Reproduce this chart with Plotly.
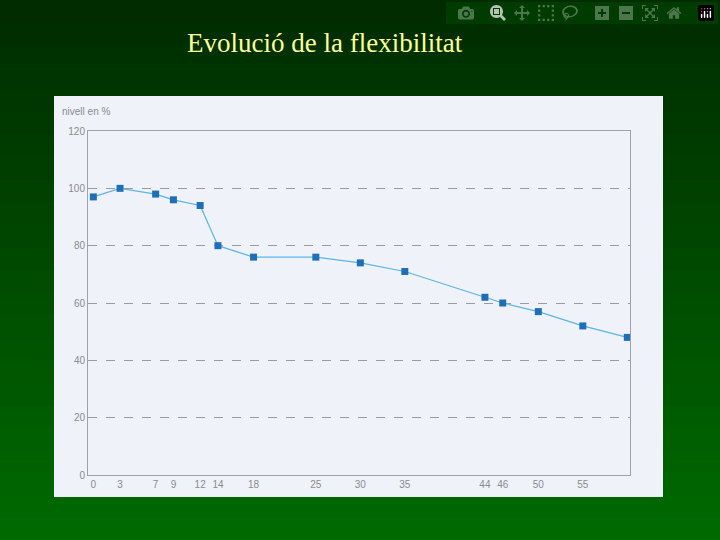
import plotly.graph_objects as go

ages = [0, 3, 7, 9, 12, 14, 18, 25, 30, 35, 44, 46, 50, 55, 60]
nivell = [97, 100, 98, 96, 94, 80, 76, 76, 74, 71, 62, 60, 57, 52, 48]
xticks = [0, 3, 7, 9, 12, 14, 18, 25, 30, 35, 44, 46, 50, 55]
yticks = [0, 20, 40, 60, 80, 100, 120]

W, H = 720, 540
L, R, T, B = 88, 90, 131, 65
PW, PH = W - L - R, H - T - B
def fx(x): return (x - L) / PW
def fy(y): return ((H - y) - B) / PH

fig = go.Figure()
fig.add_trace(go.Scatter(x=ages, y=nivell, mode="lines+markers",
    line=dict(color="#5ab4e6", width=1.2),
    marker=dict(symbol="square", size=7, color="#1f6fb8")))

fig.update_layout(
    width=W, height=H, showlegend=False,
    margin=dict(l=L, r=R, t=T, b=B),
    paper_bgcolor="#004a00", plot_bgcolor="#f0f2fa",
    xaxis=dict(range=[-0.6, 60.3], tickvals=xticks, showgrid=False, zeroline=False,
               showline=True, linecolor="#a0a0a8", mirror=True,
               tickfont=dict(family="Liberation Sans", size=10, color="#8a8a90"), ticks=""),
    yaxis=dict(range=[0, 120], tickvals=yticks, showgrid=True, gridcolor="#9a9aa0",
               griddash="dash", zeroline=False, showline=True, linecolor="#a0a0a8", mirror=True,
               tickfont=dict(family="Liberation Sans", size=10, color="#8a8a90"), ticks=""),
)
N = 24
for i in range(N):
    y0 = i * H / N
    g = int(0x2c + (0x6a - 0x2c) * i / (N - 1))
    fig.add_shape(type="rect", xref="paper", yref="paper", layer="below",
                  x0=fx(0), x1=fx(W), y0=fy(y0), y1=fy(y0 + H / N + 1),
                  line_width=0, fillcolor=f"rgb(0,{g},0)")
fig.add_shape(type="rect", xref="paper", yref="paper", layer="below",
              x0=fx(54), x1=fx(663), y0=fy(497), y1=fy(96),
              line_width=0, fillcolor="#f0f2fa")
fig.add_annotation(text="nivell en %", xref="paper", yref="paper",
                   x=fx(60), y=fy(112), xanchor="left", yanchor="middle",
                   showarrow=False, font=dict(family="Liberation Sans", size=10, color="#8a8a90"))
fig.add_annotation(text="Evolució de la flexibilitat", xref="paper", yref="paper",
                   x=fx(325), y=fy(43), xanchor="center", yanchor="middle",
                   showarrow=False, font=dict(family="Liberation Serif", size=27, color="#ffff99"))
fig.write_html("out.html", post_script="document.body.style.margin='0';document.body.style.background='#004a00';")
